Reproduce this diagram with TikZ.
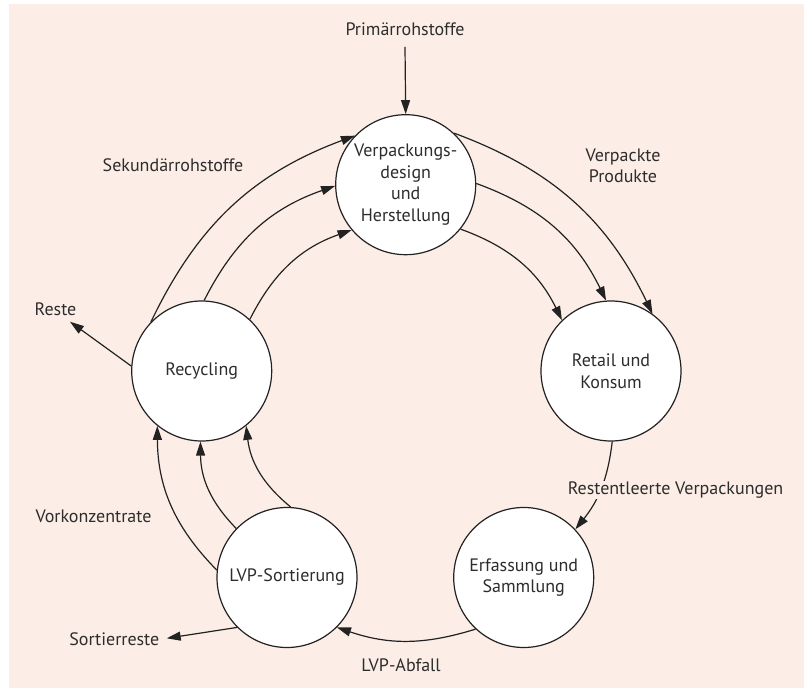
\documentclass[tikz,border=0pt]{standalone}
\usepackage{fontspec}
\setmainfont{PT Sans}
\usetikzlibrary{arrows.meta}
\definecolor{bg}{RGB}{252,238,230}
\definecolor{ink}{RGB}{34,34,34}
\definecolor{txt}{RGB}{45,45,45}
\begin{document}
\begin{tikzpicture}[x=1pt,y=1pt,
  every node/.style={font=\fontsize{18}{21.5}\selectfont, text=txt},
  proc/.style={circle, draw=ink, line width=1.2pt, fill=white, minimum size=140pt, inner sep=0pt, align=center},
  lbl/.style={align=center, inner sep=1pt},
  flow/.style={draw=ink, line width=1.2pt, -{Triangle[length=14pt,width=9pt]}}
]
\useasboundingbox (0,0) rectangle (804,691);
\fill[bg] (9,3) rectangle (804,687);

\node[proc] (verp) at (405.7,506.3) {Verpackungs-\\design\\und\\Herstellung};
\node[proc] (retail) at (611,320) {Retail und\\Konsum};
\node[proc] (erf) at (523.7,113.5) {Erfassung und\\Sammlung};
\node[proc] (lvp) at (287,113.5) {LVP-Sortierung};
\node[proc] (rec) at (201.7,320) {Recycling};

\node[lbl] (prim) at (405,662) {Primärrohstoffe};
\coordinate (primstart) at (405,644);
\node[lbl] (vprod) at (623,525) {Verpackte\\Produkte};
\node[lbl] (sek) at (173,525.3) {Sekundärrohstoffe};
\node[lbl] (reste) at (55.5,382) {Reste};
\coordinate (resteend) at (70,369.3);
\node[lbl] (vork) at (93.5,174.3) {Vorkonzentrate};
\node[lbl] (sortr) at (114.3,52) {Sortierreste};
\coordinate (sortend) at (166.7,52.7);
\node[lbl] (abfall) at (401,26) {LVP-Abfall};

\draw[flow] (primstart) -- (verp.north);

\draw[flow] (verp.47.5) to[bend left=22] (retail.54);
\draw[flow] (verp.1.4) to[bend left=22] (retail.94);
\draw[flow] (verp.-39) to[bend left=22] (retail.134);

\draw[flow] (retail.-89) to[bend left=16] (erf.43.5);
\draw[flow] (erf.-133) to[bend left=18] (lvp.-45.6);

\draw[flow] (lvp.174) to[bend left=22] (rec.-129);
\draw[flow] (lvp.136.6) to[bend left=22] (rec.-91);
\draw[flow] (lvp.87.5) to[bend left=22] (rec.-51);

\draw[flow] (rec.136) to[bend left=22] (verp.136.5);
\draw[flow] (rec.88) to[bend left=22] (verp.181);
\draw[flow] (rec.47.5) to[bend left=22] (verp.-140.5);

\draw[flow] (rec.176.5) -- (resteend);
\draw[flow] (lvp.-135.6) -- (sortend);

\node[lbl, fill=bg] (restl) at (675.5,201) {Restentleerte Verpackungen};
\end{tikzpicture}
\end{document}
